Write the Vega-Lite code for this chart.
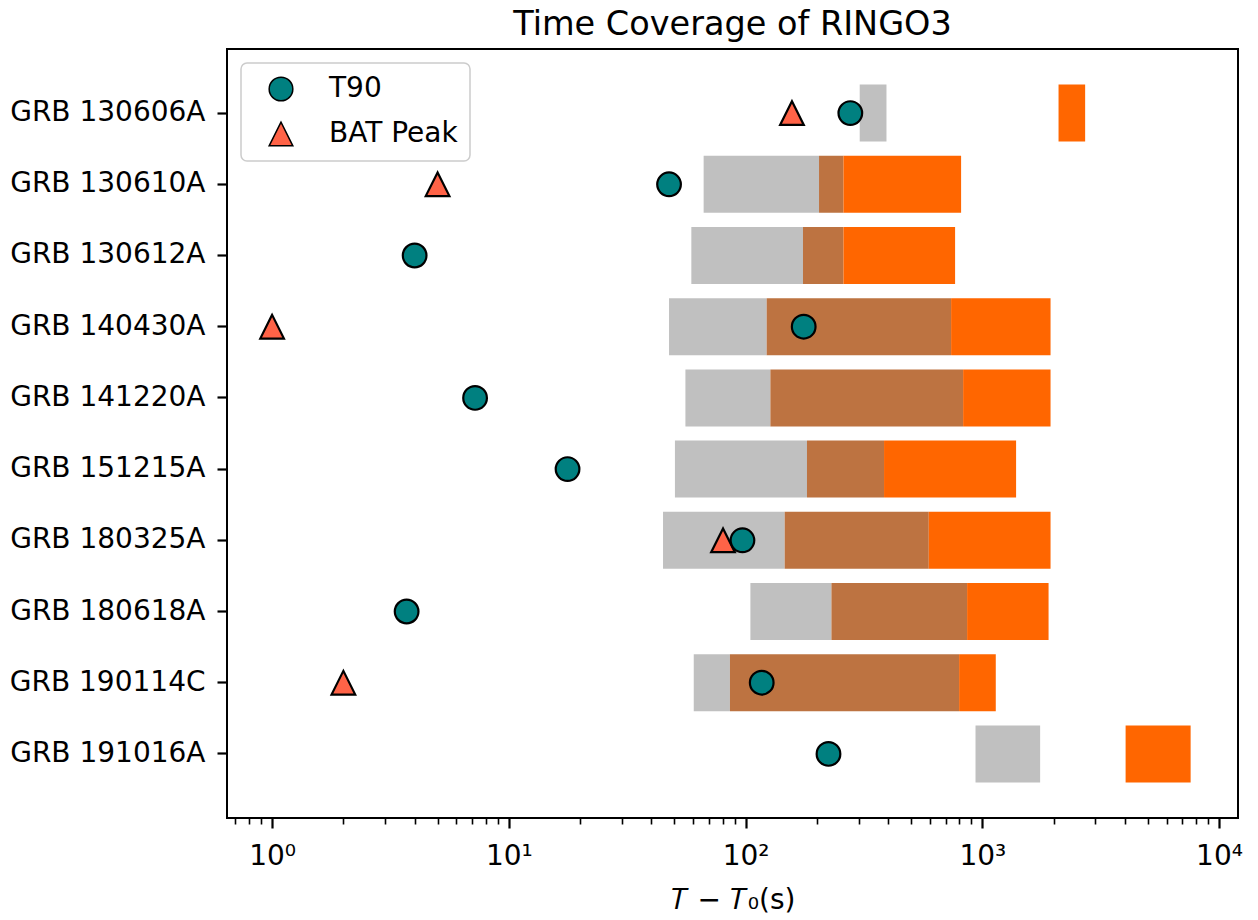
{
  "$schema": "https://vega.github.io/schema/vega-lite/v6.json",
  "width": 1011,
  "height": 769,
  "autosize": {"type": "none"},
  "padding": {"left": 227, "top": 49, "right": 20, "bottom": 102},
  "background": "white",
  "title": {
    "text": "Time Coverage of RINGO3",
    "fontSize": 33.5,
    "font": "DejaVu Sans",
    "fontWeight": "normal",
    "color": "black",
    "anchor": "middle",
    "frame": "group",
    "baseline": "alphabetic",
    "offset": 16,
    "dy": 35
  },
  "datasets": {
    "segments": [
      {"grb": "GRB 130606A", "phase": "grey", "start": 303.5, "end": 393.7},
      {"grb": "GRB 130606A", "phase": "orange", "start": 2099, "end": 2719},
      {"grb": "GRB 130610A", "phase": "grey", "start": 66.5, "end": 204.3},
      {"grb": "GRB 130610A", "phase": "overlap", "start": 204.3, "end": 259.1},
      {"grb": "GRB 130610A", "phase": "orange", "start": 259.1, "end": 813.6},
      {"grb": "GRB 130612A", "phase": "grey", "start": 59.0, "end": 174.8},
      {"grb": "GRB 130612A", "phase": "overlap", "start": 174.8, "end": 259.1},
      {"grb": "GRB 130612A", "phase": "orange", "start": 259.1, "end": 767.4},
      {"grb": "GRB 140430A", "phase": "grey", "start": 47.5, "end": 122.8},
      {"grb": "GRB 140430A", "phase": "overlap", "start": 122.8, "end": 738.2},
      {"grb": "GRB 140430A", "phase": "orange", "start": 738.2, "end": 1942},
      {"grb": "GRB 141220A", "phase": "grey", "start": 55.7, "end": 127.3},
      {"grb": "GRB 141220A", "phase": "overlap", "start": 127.3, "end": 829.7},
      {"grb": "GRB 141220A", "phase": "orange", "start": 829.7, "end": 1942},
      {"grb": "GRB 151215A", "phase": "grey", "start": 50.3, "end": 181.7},
      {"grb": "GRB 151215A", "phase": "overlap", "start": 181.7, "end": 384.5},
      {"grb": "GRB 151215A", "phase": "orange", "start": 384.5, "end": 1389},
      {"grb": "GRB 180325A", "phase": "grey", "start": 44.8, "end": 146.3},
      {"grb": "GRB 180325A", "phase": "overlap", "start": 146.3, "end": 594},
      {"grb": "GRB 180325A", "phase": "orange", "start": 594, "end": 1942},
      {"grb": "GRB 180618A", "phase": "grey", "start": 104.8, "end": 230.5},
      {"grb": "GRB 180618A", "phase": "overlap", "start": 230.5, "end": 862.5},
      {"grb": "GRB 180618A", "phase": "orange", "start": 862.5, "end": 1905},
      {"grb": "GRB 190114C", "phase": "grey", "start": 60.4, "end": 85.9},
      {"grb": "GRB 190114C", "phase": "overlap", "start": 85.9, "end": 798},
      {"grb": "GRB 190114C", "phase": "orange", "start": 798, "end": 1140},
      {"grb": "GRB 191016A", "phase": "grey", "start": 936, "end": 1755},
      {"grb": "GRB 191016A", "phase": "orange", "start": 4030, "end": 7586}
    ],
    "markers": [
      {"grb": "GRB 130606A", "kind": "BAT Peak", "t": 157},
      {"grb": "GRB 130610A", "kind": "BAT Peak", "t": 5.0},
      {"grb": "GRB 140430A", "kind": "BAT Peak", "t": 1.0},
      {"grb": "GRB 180325A", "kind": "BAT Peak", "t": 80.3},
      {"grb": "GRB 190114C", "kind": "BAT Peak", "t": 2.0},
      {"grb": "GRB 130606A", "kind": "T90", "t": 277},
      {"grb": "GRB 130610A", "kind": "T90", "t": 47.5},
      {"grb": "GRB 130612A", "kind": "T90", "t": 4.0},
      {"grb": "GRB 140430A", "kind": "T90", "t": 176},
      {"grb": "GRB 141220A", "kind": "T90", "t": 7.2},
      {"grb": "GRB 151215A", "kind": "T90", "t": 17.7},
      {"grb": "GRB 180325A", "kind": "T90", "t": 97},
      {"grb": "GRB 180618A", "kind": "T90", "t": 3.7},
      {"grb": "GRB 190114C", "kind": "T90", "t": 117},
      {"grb": "GRB 191016A", "kind": "T90", "t": 224}
    ]
  },
  "layer": [
    {
      "data": {"name": "segments"},
      "mark": {"type": "bar", "strokeWidth": 0},
      "encoding": {
        "y": {
          "field": "grb",
          "type": "nominal",
          "sort": ["GRB 130606A", "GRB 130610A", "GRB 130612A", "GRB 140430A", "GRB 141220A", "GRB 151215A", "GRB 180325A", "GRB 180618A", "GRB 190114C", "GRB 191016A"],
          "scale": {"paddingInner": 0.2, "paddingOuter": 0.5},
          "axis": {
            "title": null,
            "labelFontSize": 28,
            "labelFont": "DejaVu Sans",
            "labelColor": "black",
            "labelLimit": 400,
            "tickSize": 10,
            "tickWidth": 2.2,
            "tickColor": "black",
            "labelPadding": 12,
            "domain": false,
            "grid": false
          }
        },
        "x": {
          "field": "start",
          "type": "quantitative",
          "scale": {"type": "log", "domain": [0.6448, 12025], "nice": false},
          "axis": {
            "title": "𝑇 − 𝑇₀(s)",
            "values": [0.7, 0.8, 0.9, 1, 2, 3, 4, 5, 6, 7, 8, 9, 10, 20, 30, 40, 50, 60, 70, 80, 90, 100, 200, 300, 400, 500, 600, 700, 800, 900, 1000, 2000, 3000, 4000, 5000, 6000, 7000, 8000, 9000, 10000],
            "labelExpr": "datum.value == 1 ? '10⁰' : datum.value == 10 ? '10¹' : datum.value == 100 ? '10²' : datum.value == 1000 ? '10³' : datum.value == 10000 ? '10⁴' : ''",
            "tickSize": {"condition": {"test": "indexof([1, 10, 100, 1000, 10000], datum.value) >= 0", "value": 10}, "value": 6},
            "tickWidth": {"condition": {"test": "indexof([1, 10, 100, 1000, 10000], datum.value) >= 0", "value": 2.2}, "value": 1.6},
            "tickColor": "black",
            "labelFontSize": 28,
            "labelFont": "DejaVu Sans",
            "labelColor": "black",
            "labelPadding": 14,
            "labelOverlap": false,
            "labelFlush": false,
            "labelBound": false,
            "titleFontSize": 28,
            "titleFont": "DejaVu Sans",
            "titleFontWeight": "normal",
            "titleColor": "black",
            "titlePadding": 16,
            "domain": false,
            "grid": false
          }
        },
        "x2": {"field": "end"},
        "color": {
          "field": "phase",
          "type": "nominal",
          "scale": {"domain": ["grey", "overlap", "orange"], "range": ["#c0c0c0", "#bd7341", "#ff6600"]},
          "legend": null
        }
      }
    },
    {
      "data": {"name": "markers"},
      "mark": {"type": "point", "filled": true, "stroke": "black", "strokeWidth": 2.2, "size": 560, "opacity": 1},
      "encoding": {
        "y": {"field": "grb", "type": "nominal", "sort": ["GRB 130606A", "GRB 130610A", "GRB 130612A", "GRB 140430A", "GRB 141220A", "GRB 151215A", "GRB 180325A", "GRB 180618A", "GRB 190114C", "GRB 191016A"]},
        "x": {"field": "t", "type": "quantitative"},
        "shape": {
          "field": "kind",
          "type": "nominal",
          "scale": {"domain": ["T90", "BAT Peak"], "range": ["circle", "M0,-1L-1,1L1,1Z"]},
          "legend": {
            "title": null,
            "orient": "top-left",
            "symbolSize": 560,
            "encode": {"symbols": {"update": {"stroke": {"value": "black"}, "strokeWidth": {"value": 2.2}}}}
          }
        },
        "fill": {
          "field": "kind",
          "type": "nominal",
          "scale": {"domain": ["T90", "BAT Peak"], "range": ["#008080", "#ff6347"]},
          "legend": {
            "title": null,
            "orient": "top-left",
            "symbolSize": 560,
            "encode": {"symbols": {"update": {"stroke": {"value": "black"}, "strokeWidth": {"value": 2.2}}}}
          }
        }
      }
    }
  ],
  "config": {
    "font": "DejaVu Sans",
    "view": {"stroke": "black", "strokeWidth": 2},
    "legend": {
      "offset": 14,
      "padding": 12,
      "symbolOffset": 14,
      "labelOffset": 34,
      "rowPadding": 15,
      "strokeColor": "#cccccc",
      "strokeWidth": 1.5,
      "fillColor": "white",
      "cornerRadius": 6,
      "symbolSize": 560,
      "labelFontSize": 28,
      "labelFont": "DejaVu Sans",
      "labelColor": "black",
      "labelLimit": 400
    }
  }
}
